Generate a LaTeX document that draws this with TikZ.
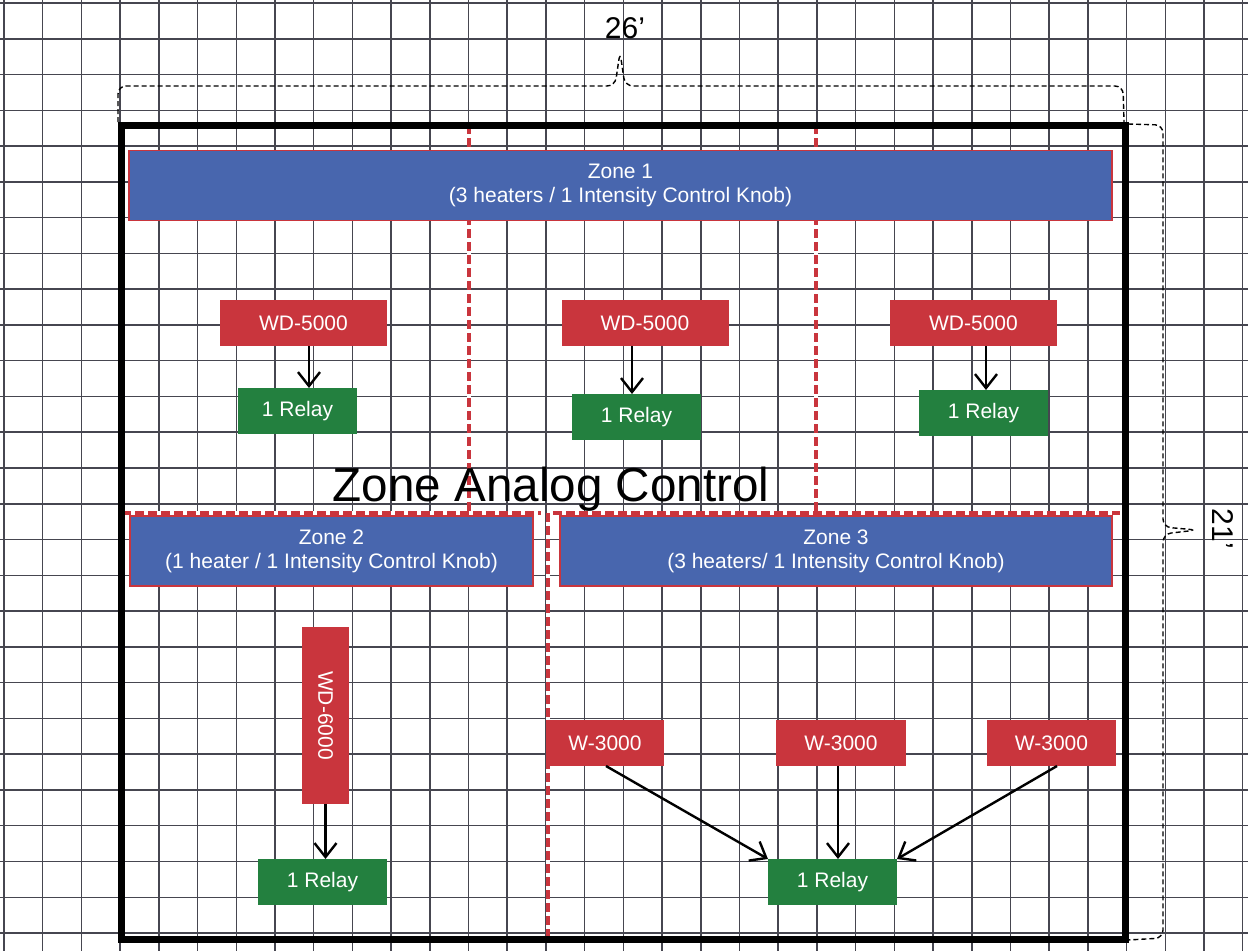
\documentclass[tikz,border=0pt]{standalone}
\usepackage{fontspec}
\setmainfont{Liberation Sans}
\usetikzlibrary{arrows.meta}
\definecolor{ZoneClr}{RGB}{72,102,174}
\definecolor{HeaterClr}{RGB}{201,53,61}
\definecolor{RelayClr}{RGB}{35,128,63}
\definecolor{GridClr}{RGB}{70,70,80}

\begin{document}
\begin{tikzpicture}[x=1pt,y=-1pt,
  gridline/.style={line width=1.5pt,color=GridClr},
  dimline/.style={line width=1.4pt,dash pattern=on 5pt off 3pt,rounded corners=8pt},
  zoneline/.style={line width=4.5pt,color=HeaterClr,dash pattern=on 9pt off 4pt},
  boxtext/.style={text=white,inner sep=0pt,outer sep=0pt,font=\fontsize{21}{24}\selectfont},
  zonebox/.style={boxtext,fill=ZoneClr,draw=HeaterClr,line width=1.5pt,align=center,minimum height=70pt},
  heaterbox/.style={boxtext,fill=HeaterClr,minimum height=46pt},
  relaybox/.style={boxtext,fill=RelayClr,minimum height=46pt,minimum width=129pt},
  arr/.style={line width=2.4pt,-{Straight Barb[length=14pt,width=22pt]}}]

\fill[white] (0,0) rectangle (1248,951);
\useasboundingbox (0,0) rectangle (1248,951);

% background grid
\foreach \i in {0,...,32}
  \draw[gridline] (4+\i*38.71,0) -- (4+\i*38.71,951);
\foreach \j in {0,...,26}
  \draw[gridline] (0,3+\j*35.77) -- (1248,3+\j*35.77);

% dimension braces
\draw[dimline] (118,122) -- (118,86) -- (615,86) -- (620,52) -- (625,86) -- (1123,86) -- (1124,122);
\draw[dimline] (1128,124) -- (1163,125) -- (1163,527) -- (1197,530) -- (1163,534) -- (1163,938) -- (1128,940);
\node[anchor=base,font=\fontsize{30}{32}\selectfont] (width) at (625,38) {26’};
\node[anchor=base,rotate=-90,font=\fontsize{30}{32}\selectfont] (height) at (1212,529) {21’};

% zone borders
\foreach \a/\b in {{469,125}/{469,513},{816,125}/{816,513},{122,513}/{541,513},{553,513}/{1120,513},{548,513}/{548,939}}{
  \draw[white,line width=4.5pt] (\a) -- (\b);
  \draw[zoneline] (\a) -- (\b);
}
\draw[line width=7pt] (121,125) rectangle (1125,939);

% zones
\node[zonebox,minimum width=983pt] (zone1) at (620.5,185.5) {Zone 1\\(3 heaters / 1 Intensity Control Knob)};
\node[zonebox,minimum width=403pt] (zone2) at (331.5,551) {Zone 2\\(1 heater / 1 Intensity Control Knob)};
\node[zonebox,minimum width=552pt] (zone3) at (836,551) {Zone 3\\(3 heaters/ 1 Intensity Control Knob)};

% heaters
\node[heaterbox,minimum width=167pt] (wd1) at (303.5,323) {WD-5000};
\node[heaterbox,minimum width=167pt] (wd2) at (645,323) {WD-5000};
\node[heaterbox,minimum width=167pt] (wd3) at (973.5,323) {WD-5000};
\node[heaterbox,minimum width=47pt,minimum height=177pt] (wd6) at (325.5,715.5) {\rotatebox{-90}{WD-6000}};
\node[heaterbox,minimum width=118pt] (w1) at (605,743) {W-3000};
\node[heaterbox,minimum width=130pt] (w2) at (841,743) {W-3000};
\node[heaterbox,minimum width=129pt] (w3) at (1051.5,743) {W-3000};

% relays
\node[relaybox,minimum width=119pt] (r1) at (297.5,411) {1 Relay};
\node[relaybox] (r2) at (636.5,417) {1 Relay};
\node[relaybox] (r3) at (983.5,413) {1 Relay};
\node[relaybox] (r4) at (322.5,882) {1 Relay};
\node[relaybox] (r5) at (832.5,882) {1 Relay};

\draw[arr] ([xshift=5.5pt]wd1.south) -- ([xshift=5.5pt]wd1.south |- r1.north);
\draw[arr] ([xshift=-13pt]wd2.south) -- ([xshift=-13pt]wd2.south |- r2.north);
\draw[arr] ([xshift=12.5pt]wd3.south) -- ([xshift=12.5pt]wd3.south |- r3.north);
\draw[arr] (wd6.south) -- (wd6.south |- r4.north);
\draw[arr] ([xshift=1pt]w1.south) -- (r5.north west);
\draw[arr] ([xshift=-3pt]w2.south) -- ([xshift=-3pt]w2.south |- r5.north);
\draw[arr] ([xshift=5.5pt]w3.south) -- (r5.north east);

\node[anchor=base,font=\fontsize{47.6}{50}\selectfont] (title) at (551,501) {Zone Analog Control};

\end{tikzpicture}
\end{document}
